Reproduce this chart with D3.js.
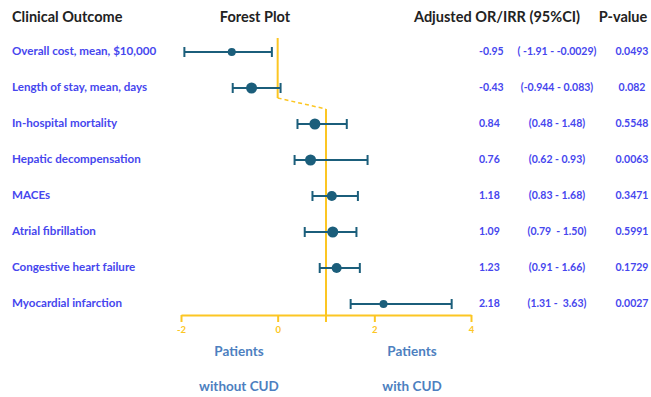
<!DOCTYPE html>
<html>
<head>
<meta charset="utf-8">
<script src="https://cdn.jsdelivr.net/npm/d3@7"></script>
<style>
  body { margin: 0; background: #fff; }
  svg text { font-family: Lato, "Open Sans", sans-serif; }
</style>
</head>
<body>
<div id="canvas"></div>
<script>
"use strict";

/* Data */
let outcomes = [
  "Overall cost, mean, $10,000",
  "Length of stay, mean, days",
  "In-hospital mortality",
  "Hepatic decompensation",
  "MACEs",
  "Atrial fibrillation",
  "Congestive heart failure",
  "Myocardial infarction"
];
let estimates = [-0.95, -0.43, 0.84, 0.76, 1.18, 1.09, 1.23, 2.18];
// plotted point positions and whisker ends, as drawn
let plotPoint = [-0.95, -0.54, 0.77, 0.68, 1.12, 1.14, 1.22, 2.19];
let plotLow = [-1.93, -0.93, 0.41, 0.35, 0.72, 0.56, 0.87, 1.51];
let plotHigh = [-0.12, 0.06, 1.43, 1.86, 1.66, 1.63, 1.70, 3.60];
let ciText = [
  "( -1.91 - -0.0029)",
  "(-0.944 - 0.083)",
  "(0.48 - 1.48)",
  "(0.62 - 0.93)",
  "(0.83 - 1.68)",
  "(0.79  - 1.50)",
  "(0.91 - 1.66)",
  "(1.31 -  3.63)"
];
let pValues = ["0.0493", "0.082", "0.5548", "0.0063", "0.3471", "0.5991", "0.1729", "0.0027"];
let pointSize = [4, 5.5, 5.5, 5.5, 5, 5.5, 5, 4];
let xTicks = [-2, 0, 2, 4];

/* Drawing config */
let svgWidth = 651;
let svgHeight = 397;
let axisY = 315;
let labelBlue = "#4646ee";
let markColor = "#1b5e7b";
let yellow = "#fcc623";

let svg = d3.select("#canvas")
  .append("svg")
  .attr("width", svgWidth)
  .attr("height", svgHeight);

let xScale = d3.scaleLinear()
  .domain([-2, 4])
  .range([181, 471]);

let yScale = d3.scaleBand()
  .domain(d3.range(outcomes.length))
  .range([34, 322]);

let rowY = i => yScale(i) + yScale.bandwidth() / 2;

/* Headers */
let headers = [
  { text: "Clinical Outcome", x: 12, anchor: "start" },
  { text: "Forest Plot", x: 255, anchor: "middle" },
  { text: "Adjusted OR/IRR (95%CI)", x: 497, anchor: "middle" },
  { text: "P-value", x: 623, anchor: "middle" }
];
svg.selectAll("text.header")
  .data(headers)
  .join("text")
  .attr("class", "header")
  .attr("x", d => d.x)
  .attr("y", 18)
  .attr("text-anchor", d => d.anchor)
  .attr("dominant-baseline", "middle")
  .attr("font-size", 14.5)
  .attr("font-weight", "bold")
  .attr("fill", "#222")
  .text(d => d.text);

/* Reference line: 0 for mean differences, 1 for ratios */
svg.append("line")
  .attr("x1", xScale(0)).attr("x2", xScale(0))
  .attr("y1", 38).attr("y2", 98)
  .attr("stroke", yellow).attr("stroke-width", 2);

svg.append("line")
  .attr("x1", xScale(0)).attr("x2", xScale(1))
  .attr("y1", 98).attr("y2", 109)
  .attr("stroke", yellow).attr("stroke-width", 1.5)
  .attr("stroke-dasharray", "4,3");

svg.append("line")
  .attr("x1", xScale(1)).attr("x2", xScale(1))
  .attr("y1", 109).attr("y2", axisY + 7)
  .attr("stroke", yellow).attr("stroke-width", 2);

/* Bottom axis */
let xAxis = d3.axisBottom(xScale)
  .tickValues(xTicks)
  .tickFormat(d3.format("d"))
  .tickSize(7)
  .tickSizeOuter(0)
  .tickPadding(4);

let axisG = svg.append("g")
  .attr("transform", `translate(0,${axisY})`)
  .call(xAxis);
axisG.select(".domain").attr("stroke", yellow).attr("stroke-width", 2);
axisG.selectAll(".tick line").attr("stroke", yellow).attr("stroke-width", 2);
axisG.selectAll(".tick text")
  .attr("fill", yellow)
  .attr("font-size", 9.5)
  .attr("font-weight", "bold")
  .attr("font-family", "Lato, sans-serif")
  .text(d => String(d));

/* Whiskers and points */
let rows = svg.selectAll("g.row")
  .data(outcomes)
  .join("g")
  .attr("class", "row");

rows.append("line")
  .attr("x1", (d, i) => xScale(plotLow[i]))
  .attr("x2", (d, i) => xScale(plotHigh[i]))
  .attr("y1", (d, i) => rowY(i))
  .attr("y2", (d, i) => rowY(i))
  .attr("stroke", markColor).attr("stroke-width", 2);

rows.append("line")
  .attr("x1", (d, i) => xScale(plotLow[i]))
  .attr("x2", (d, i) => xScale(plotLow[i]))
  .attr("y1", (d, i) => rowY(i) - 5)
  .attr("y2", (d, i) => rowY(i) + 5)
  .attr("stroke", markColor).attr("stroke-width", 2);

rows.append("line")
  .attr("x1", (d, i) => xScale(plotHigh[i]))
  .attr("x2", (d, i) => xScale(plotHigh[i]))
  .attr("y1", (d, i) => rowY(i) - 5)
  .attr("y2", (d, i) => rowY(i) + 5)
  .attr("stroke", markColor).attr("stroke-width", 2);

rows.append("circle")
  .attr("cx", (d, i) => xScale(plotPoint[i]))
  .attr("cy", (d, i) => rowY(i))
  .attr("r", (d, i) => pointSize[i])
  .attr("fill", markColor);

/* Left labels */
rows.append("text")
  .attr("x", 12)
  .attr("y", (d, i) => rowY(i))
  .attr("dominant-baseline", "middle")
  .attr("font-size", 11.6)
  .attr("font-weight", "bold")
  .attr("fill", labelBlue)
  .text(d => d);

/* Right columns */
let colText = rows.append("g")
  .attr("font-size", 10.5)
  .attr("font-weight", "bold")
  .attr("fill", labelBlue);

colText.append("text")
  .attr("x", 479)
  .attr("y", (d, i) => rowY(i))
  .attr("dominant-baseline", "middle")
  .text((d, i) => d3.format(".2f")(estimates[i]).replace("−", "-"));

colText.append("text")
  .attr("x", 557)
  .attr("y", (d, i) => rowY(i))
  .attr("text-anchor", "middle")
  .attr("dominant-baseline", "middle")
  .attr("xml:space", "preserve")
  .text((d, i) => ciText[i]);

colText.append("text")
  .attr("x", 632)
  .attr("y", (d, i) => rowY(i))
  .attr("text-anchor", "middle")
  .attr("dominant-baseline", "middle")
  .text((d, i) => pValues[i]);

/* Group labels under the axis */
let groupLabels = [
  { lines: ["Patients", "without CUD"], x: 239 },
  { lines: ["Patients", "with CUD"], x: 412 }
];
groupLabels.forEach(g => {
  g.lines.forEach((t, j) => {
    svg.append("text")
      .attr("x", g.x)
      .attr("y", 353 + j * 35)
      .attr("text-anchor", "middle")
      .attr("dominant-baseline", "middle")
      .attr("font-size", 13.5)
      .attr("font-weight", "bold")
      .attr("fill", "#4d7fc0")
      .text(t);
  });
});
</script>
</body>
</html>
